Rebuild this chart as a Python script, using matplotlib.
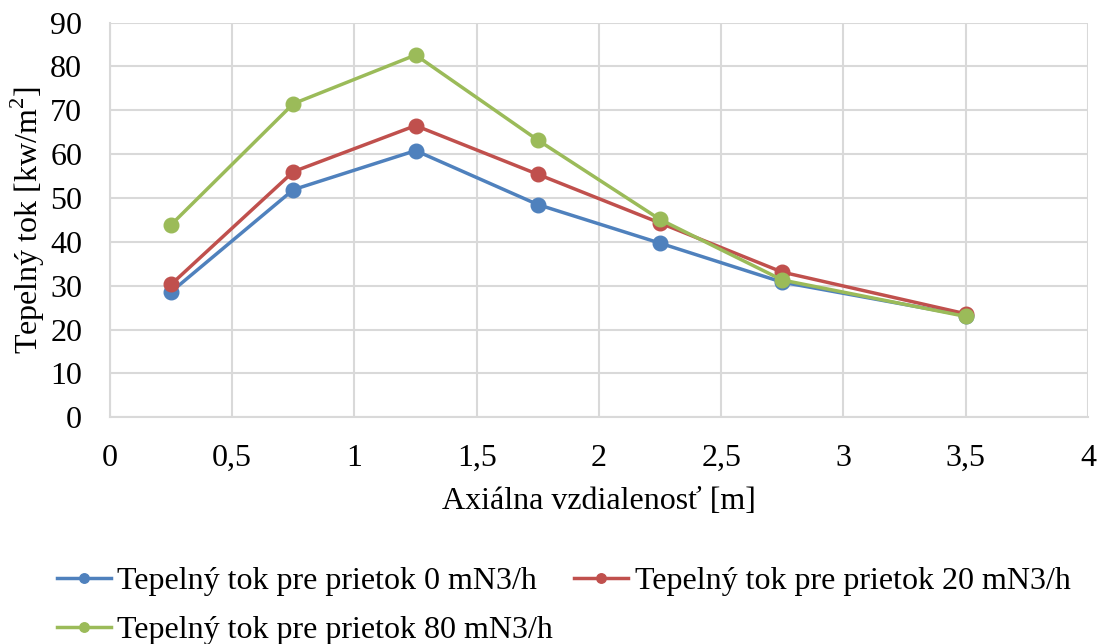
import matplotlib
matplotlib.use("Agg")
import matplotlib.pyplot as plt

x = [0.25, 0.75, 1.25, 1.75, 2.25, 2.75, 3.5]
tok_0 = [28.6, 51.9, 60.8, 48.5, 39.7, 30.8, 23.2]
tok_20 = [30.3, 56.0, 66.5, 55.4, 44.3, 33.1, 23.6]
tok_80 = [43.9, 71.5, 82.6, 63.2, 45.1, 31.3, 23.0]
labels = ["Tepelný tok pre prietok 0 mN3/h",
          "Tepelný tok pre prietok 20 mN3/h",
          "Tepelný tok pre prietok 80 mN3/h"]
colors = ["#4f81bd", "#c0504d", "#9bbb59"]

plt.rcParams['font.family'] = ['Liberation Serif', 'DejaVu Serif']
plt.rcParams['mathtext.fontset'] = 'custom'
plt.rcParams['mathtext.rm'] = 'Liberation Serif'

fig = plt.figure(figsize=(11, 6.44), dpi=100)
ax = fig.add_axes([0.1, 0.352, 0.889, 0.613])

lines = []
for ys, lab, c in zip([tok_0, tok_20, tok_80], labels, colors):
    l, = ax.plot(x, ys, color=c, linewidth=2.5, marker="o", markersize=10.5, label=lab)
    lines.append(l)

ax.set_xlim(0, 4)
ax.set_ylim(0, 90)
ax.set_xticks([0, 0.5, 1, 1.5, 2, 2.5, 3, 3.5, 4])
ax.set_xticklabels(["0", "0,5", "1", "1,5", "2", "2,5", "3", "3,5", "4"])
ax.set_yticks(range(0, 91, 10))
ax.tick_params(labelsize=23, length=0)
ax.tick_params(axis="x", pad=19)
ax.tick_params(axis="y", pad=20)
ax.grid(color="#d9d9d9", linewidth=1.5)
ax.set_axisbelow(True)
for s in ax.spines.values():
    s.set_visible(False)
for side in ["left", "bottom"]:
    ax.spines[side].set_visible(True)
    ax.spines[side].set_color("#d9d9d9")
    ax.spines[side].set_linewidth(1.5)

ax.set_xlabel("Axiálna vzdialenosť [m]", fontsize=23, labelpad=10)
ax.set_ylabel(r"Tepelný tok [kw/m$^\mathrm{2}$]", fontsize=23, labelpad=2)

# row-wise order: 0 and 20 on first row, 80 on second
order = [0, 2, 1]
fig.legend([lines[i] for i in order], [labels[i] for i in order],
           loc="upper left", bbox_to_anchor=(0.037, 0.145), ncol=2, fontsize=23,
           frameon=False, borderpad=0, handlelength=1.7, handletextpad=0.2,
           columnspacing=0.65, labelspacing=0.62, markerscale=0.65)

fig.savefig("out.png", dpi=100)
